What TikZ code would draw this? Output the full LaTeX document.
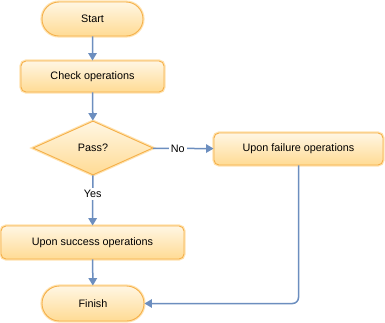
\documentclass[tikz,border=0pt]{standalone}
\usepackage{fontspec}
\setmainfont{Liberation Sans}
\usetikzlibrary{shapes.geometric,shapes.misc,arrows.meta}
\definecolor{edgeblue}{HTML}{6C8EBF}
\definecolor{boxline}{HTML}{F5B04A}
\definecolor{boxglow}{HTML}{FFE3B0}
\definecolor{filltop}{HTML}{FFF6E3}
\definecolor{fillbot}{HTML}{FFDB94}
\tikzset{
  base/.style={draw=boxline, line width=0.9pt, top color=filltop, bottom color=fillbot,
    font=\fontsize{10.8}{12}\selectfont, inner sep=0pt, align=center,
    preaction={draw=boxglow, line width=3.2pt}},
  term/.style={base, rounded rectangle},
  proc/.style={base, rectangle, rounded corners=5pt},
  dec/.style={base, diamond, aspect=2.2},
  conn/.style={draw=edgeblue, line width=1.5pt, -{Triangle[length=7.5pt,width=8.5pt]}},
  lab/.style={font=\fontsize{10.8}{12}\selectfont, fill=white, inner sep=2pt}
}
\begin{document}
\begin{tikzpicture}[x=1pt,y=-1pt]
\useasboundingbox[fill=white] (0,0) rectangle (385,322);
\node[term, minimum width=101pt, minimum height=34pt] (start) at (92.5,19) {Start};
\node[proc, minimum width=143pt, minimum height=31pt] (check) at (92.5,76.5) {Check operations};
\node[dec, minimum width=120pt, minimum height=54pt] (pass) at (93,148) {Pass?};
\node[proc, minimum width=169pt, minimum height=32pt] (fail) at (298.5,149) {Upon failure operations};
\node[proc, minimum width=183pt, minimum height=33pt] (succ) at (92.5,242.5) {Upon success operations};
\node[term, minimum width=102pt, minimum height=35pt] (finish) at (93,303.5) {Finish};
\draw[conn] (start) -- (check);
\draw[conn] (check) -- (pass);
\draw[conn] (pass) -- node[lab, pos=0.41]{No} (fail);
\draw[conn] (pass) -- node[lab, pos=0.37]{Yes} (succ);
\draw[conn] (succ) -- (finish);
\draw[conn, rounded corners=6pt] (fail.south) |- (finish.east);
\end{tikzpicture}
\end{document}
